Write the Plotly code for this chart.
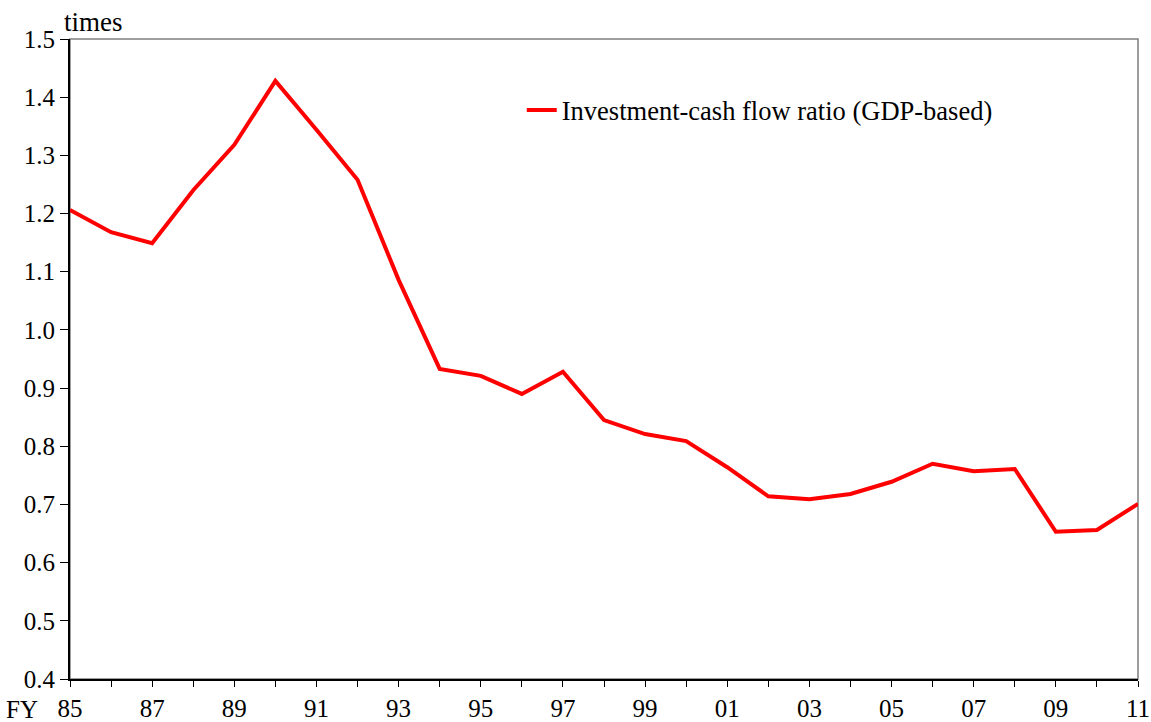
import plotly.graph_objects as go

years = list(range(1985, 2012))
ratio = [1.206, 1.168, 1.149, 1.240, 1.318, 1.428, 1.344, 1.258, 1.086, 0.933,
         0.921, 0.890, 0.928, 0.845, 0.821, 0.809, 0.764, 0.714, 0.709, 0.718,
         0.739, 0.770, 0.757, 0.761, 0.653, 0.656, 0.701]
series_name = "Investment-cash flow ratio (GDP-based)"
tick_text = [f"{y % 100:02d}" if (y - 1985) % 2 == 0 else "" for y in years]
y_ticks = [0.4, 0.5, 0.6, 0.7, 0.8, 0.9, 1.0, 1.1, 1.2, 1.3, 1.4, 1.5]

FONT = "Liberation Serif, Times New Roman, serif"

fig = go.Figure()
fig.add_trace(go.Scatter(x=years, y=ratio, mode="lines", name=series_name,
                         line=dict(color="#ff0000", width=4)))

fig.update_layout(
    width=1151, height=722,
    margin=dict(l=70, r=13, t=39, b=43),
    paper_bgcolor="white", plot_bgcolor="white",
    font=dict(family=FONT, size=25, color="black"),
    showlegend=True,
    legend=dict(x=0.423, y=0.926, xanchor="left", yanchor="top",
                bgcolor="rgba(0,0,0,0)", font=dict(size=26.5, family=FONT)),
    shapes=[dict(type="rect", xref="paper", yref="paper", x0=0, x1=1, y0=0, y1=1,
                 line=dict(color="#7f7f7f", width=1.5), layer="below")],
    annotations=[
        dict(text="times", xref="paper", yref="paper", x=0, y=1, xanchor="left",
             yanchor="bottom", showarrow=False, xshift=-8, yshift=0,
             font=dict(size=27, family=FONT)),
        dict(text="FY", xref="paper", yref="paper", x=0, y=0, xanchor="right",
             yanchor="top", showarrow=False, xshift=-30, yshift=-15,
             font=dict(size=25, family=FONT)),
    ],
)
fig.update_xaxes(range=[1985, 2011], tickvals=years, ticktext=tick_text,
                 ticks="outside", ticklen=6, tickwidth=1, tickcolor="black",
                 showline=True, linecolor="black", linewidth=2, showgrid=False,
                 zeroline=False, tickfont=dict(size=25), automargin=False)
fig.update_yaxes(range=[0.4, 1.5], tickvals=y_ticks,
                 ticktext=[f"{v:.1f}" for v in y_ticks],
                 ticks="outside", ticklen=8, tickwidth=1, tickcolor="black",
                 showline=True, linecolor="black", linewidth=2, showgrid=False,
                 zeroline=False, tickfont=dict(size=25), automargin=False)

fig.write_html("out.html", config={"displayModeBar": False},
               post_script="document.body.style.margin='0';document.body.style.overflow='hidden';")
